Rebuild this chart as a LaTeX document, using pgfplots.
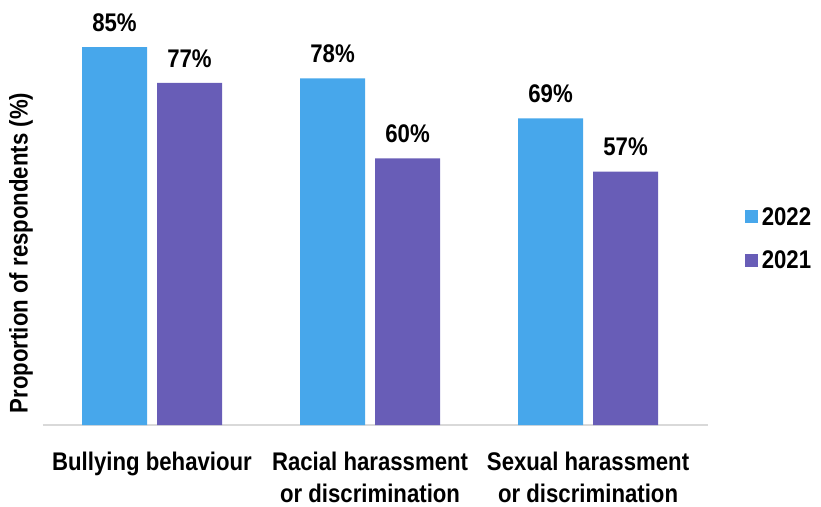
\documentclass[border=0pt]{standalone}
\usepackage{pgfplots}
\pgfplotsset{compat=1.18}
\usepackage{fontspec}
\setmainfont{Liberation Sans}[FakeStretch=0.87]
\definecolor{c22}{RGB}{71,167,235}
\definecolor{c21}{RGB}{104,93,183}
\definecolor{axgray}{RGB}{217,217,217}
\newcommand{\fs}{\fontsize{25.5}{32}\selectfont\bfseries}
\begin{document}
\begin{tikzpicture}
\begin{axis}[
  name=ax,
  scale only axis,
  width=665pt, height=400pt,
  xmin=-0.5, xmax=2.55,
  ymin=0, ymax=90,
  ybar=10pt,
  bar width=65pt,
  axis x line*=bottom,
  axis y line*=left,
  y axis line style={draw=none},
  x axis line style={-, draw=axgray, line width=1.5pt},
  xtick={0,1,2},
  xticklabels={Bullying behaviour, Racial harassment\\or discrimination, Sexual harassment\\or discrimination},
  xticklabel style={font=\fs, align=center, text=black, yshift=-23pt},
  major tick length=0pt,
  ytick=\empty,
  clip=false,
  /pgf/number format/assume math mode=true,
  nodes near coords={\pgfmathprintnumber{\pgfplotspointmeta}\%},
  every node near coord/.append style={font=\fs, text=black, yshift=12pt},
  ylabel={Proportion of respondents (\%)},
  ylabel style={font=\fs, at={(axis description cs:-0.033,0.43)}, anchor=center},
  legend style={draw=none, font=\fs, at={(axis description cs:1.055,0.466)}, anchor=west, row sep=24pt, inner sep=0pt, nodes={inner xsep=4pt, inner ysep=0pt}},
  legend cell align=left,
  legend image code/.code={\fill[#1] (0pt,-6.5pt) rectangle (13pt,6.5pt);},
]
\addplot[fill=c22, draw=none] coordinates {(0,85) (1,78) (2,69)};
\addplot[fill=c21, draw=none] coordinates {(0,77) (1,60) (2,57)};
\legend{2022,2021}
\end{axis}
\pgfresetboundingbox
\path (ax.south west) ++(-43pt,-81pt) rectangle ++(821pt,506pt);
\end{tikzpicture}
\end{document}
